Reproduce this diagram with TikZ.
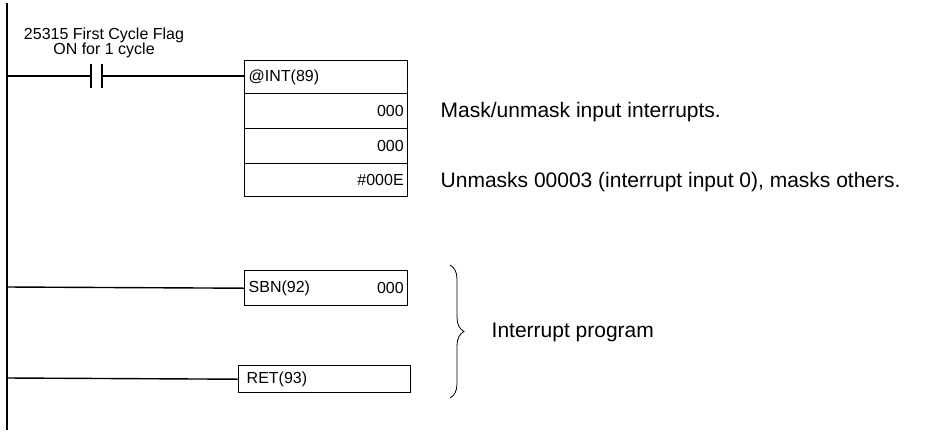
\documentclass[tikz,border=0pt]{standalone}
\usepackage{fontspec}
\setmainfont{Liberation Sans}
\usetikzlibrary{decorations.pathreplacing}
\begin{document}
\begin{tikzpicture}[x=1pt,y=-1pt,line width=1.4pt,
  cell/.style={draw,minimum width=163,minimum height=34,inner sep=0,anchor=north west},
  txt/.style={inner sep=4,font=\fontsize{16}{17}\selectfont},
  note/.style={anchor=west,inner sep=0,font=\fontsize{21}{23}\selectfont}]
\useasboundingbox (0,0) rectangle (929,432);
\draw (7,3) coordinate (top) -- (7,430) coordinate (bot);
% contact rung
\coordinate (c1) at (7,76);
\coordinate (pl) at (91,76);
\coordinate (pr) at (102,76);
\draw (c1) -- (pl);
\draw (pl) ++(0,-12) -- ++(0,24);
\draw (pr) ++(0,-12) -- ++(0,24);
\draw (pr) -- (244,76);
\node[align=center,inner sep=0,font=\fontsize{16}{15}\selectfont] (flag) at (104,43) {25315 First Cycle Flag\\ON for 1 cycle};
% INT block
\node[cell,minimum height=33] (int) at (244,60) {};
\node[txt,anchor=west] at (int.west) {@INT(89)};
\node[cell,minimum height=35] (op1) at (244,93) {};
\node[txt,anchor=east] at (op1.east) {000};
\node[cell,minimum height=35] (op2) at (244,128) {};
\node[txt,anchor=east] at (op2.east) {000};
\node[cell,minimum height=33] (op3) at (244,163) {};
\node[txt,anchor=east] at (op3.east) {\#000E};
\node[note] (n1) at (440,112) {Mask/unmask input interrupts.};
\node[note] (n2) at (440,182) {Unmasks 00003 (interrupt input 0), masks others.};
% SBN
\node[cell,minimum height=35] (sbn) at (244,270) {};
\node[txt,anchor=west] at (sbn.west) {SBN(92)};
\node[txt,anchor=east] at (sbn.east) {000};
\draw (7,287) -- (sbn.west);
% RET
\node[cell,minimum width=172,minimum height=27] (ret) at (238,365) {};
\node[txt,anchor=west] at ([xshift=4]ret.west) {RET(93)};
\draw (7,378) -- (ret.west);
% brace
\draw[line width=0.8pt,decorate,decoration={brace,amplitude=14}] (450,265) -- (450,398);
\node[note] (prog) at (491,332) {Interrupt program};
\end{tikzpicture}
\end{document}
